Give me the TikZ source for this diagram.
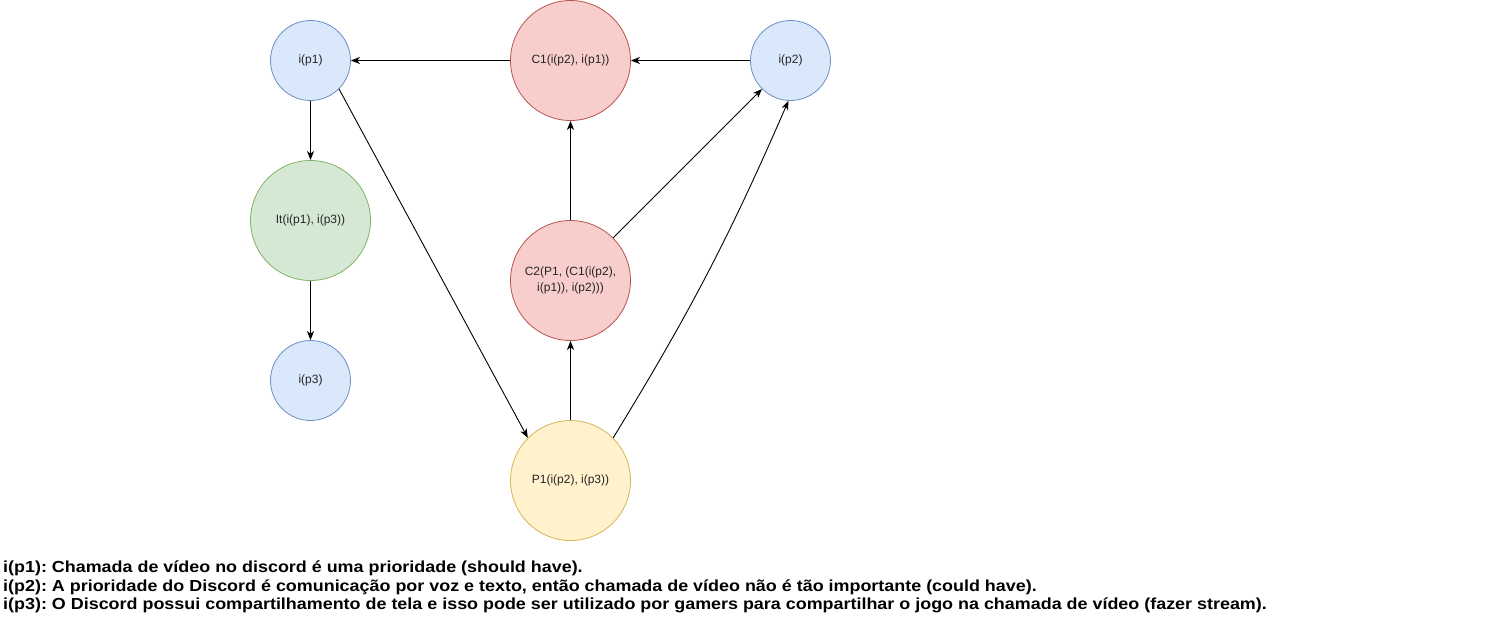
\documentclass[tikz,border=0pt]{standalone}
\usepackage{fontspec}
\setmainfont{Liberation Sans}
\newfontfamily\notefont{Liberation Sans}[FakeStretch=1.12]
\usetikzlibrary{arrows.meta}
\definecolor{bluefill}{HTML}{DAE8FC}\definecolor{bluedraw}{HTML}{6C8EBF}
\definecolor{redfill}{HTML}{F8CECC}\definecolor{reddraw}{HTML}{B85450}
\definecolor{greenfill}{HTML}{D5E8D4}\definecolor{greendraw}{HTML}{82B366}
\definecolor{yellowfill}{HTML}{FFF2CC}\definecolor{yellowdraw}{HTML}{D6B656}
\tikzset{
  circ/.style={circle, inner sep=0pt, line width=0.8pt, font=\fontsize{12}{15.5}\selectfont, text=black!85, align=center},
  small/.style={circ, minimum size=80pt},
  big/.style={circ, minimum size=120pt},
  blue/.style={fill=bluefill, draw=bluedraw},
  red/.style={fill=redfill, draw=reddraw},
  green/.style={fill=greenfill, draw=greendraw},
  yellow/.style={fill=yellowfill, draw=yellowdraw},
  conn/.style={line width=0.9pt, -{Stealth[length=9pt,width=7pt,inset=2.5pt]}},
  note/.style={anchor=base west, inner sep=0pt, font=\notefont\fontsize{16}{18}\selectfont\bfseries\frenchspacing}
}
\begin{document}
\begin{tikzpicture}[x=1pt,y=-1pt]
\useasboundingbox (0,0) rectangle (1501,618);
\node[small,blue] (ip1) at (310.5,60.5) {i(p1)};
\node[big,red] (C1) at (570.5,60.5) {C1(i(p2), i(p1))};
\node[small,blue] (ip2) at (790.5,60.5) {i(p2)};
\node[big,green] (It) at (310.5,220.5) {It(i(p1), i(p3))};
\node[small,blue] (ip3) at (310.5,380.5) {i(p3)};
\node[big,red] (C2) at (570.5,280.5) {C2(P1, (C1(i(p2),\\i(p1)), i(p2)))};
\node[big,yellow] (P1) at (570.5,480.5) {P1(i(p2), i(p3))};

\draw[conn] (C1) -- (ip1);
\draw[conn] (ip2) -- (C1);
\draw[conn] (ip1) -- (It);
\draw[conn] (It) -- (ip3);
\draw[conn] (ip1.-45) -- (P1.135);
\draw[conn] (C2) -- (C1);
\draw[conn] (C2) -- (ip2);
\draw[conn] (P1) -- (C2);
\draw[conn] (P1.45) to[bend right=4] (ip2.-93);

\node[note] (n1) at (3,572.5) {i(p1): Chamada de vídeo no discord é uma prioridade (should have).};
\node[note] (n2) at (3,591) {i(p2): A prioridade do Discord é comunicação por voz e texto, então chamada de vídeo não é tão importante (could have).};
\node[note] (n3) at (3,609.5) {i(p3): O Discord possui compartilhamento de tela e isso pode ser utilizado por gamers para compartilhar o jogo na chamada de vídeo (fazer stream).};
\end{tikzpicture}
\end{document}
